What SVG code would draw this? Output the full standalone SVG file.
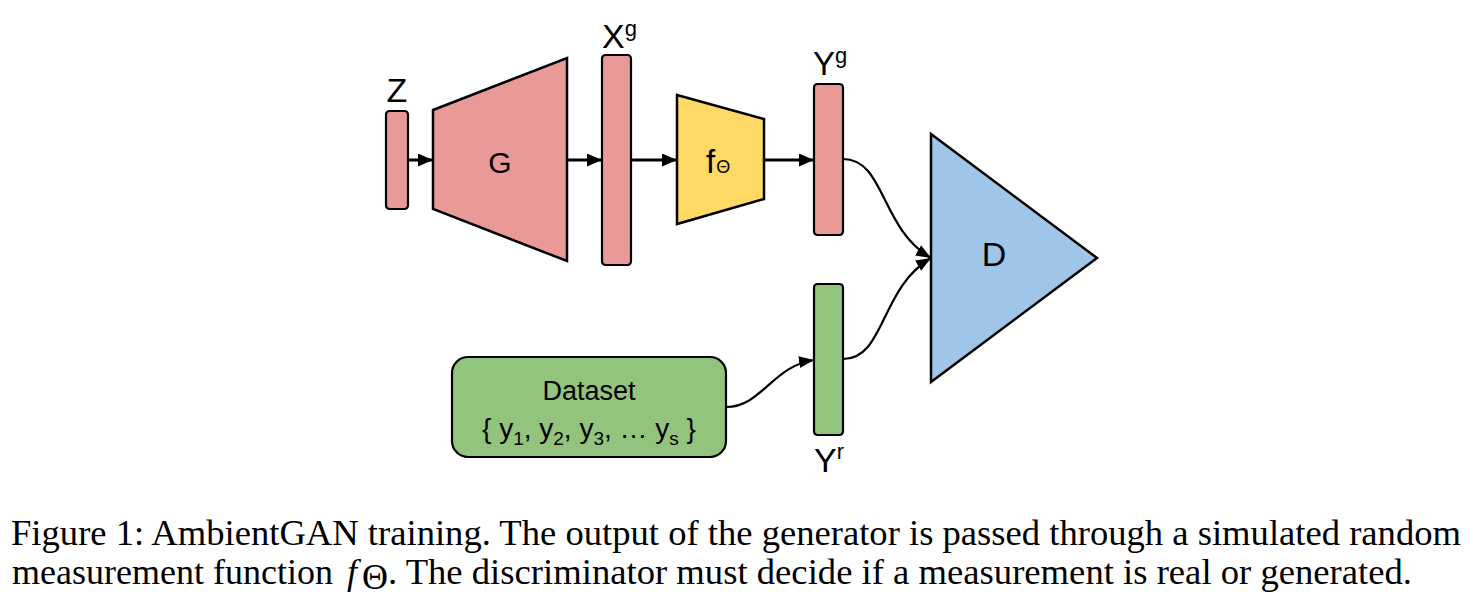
<svg xmlns="http://www.w3.org/2000/svg" width="1470" height="599" viewBox="0 0 1470 599">
<style>
.lbl{font-family:"Liberation Sans",Arial,sans-serif;fill:#000}
.cap{font-family:"Liberation Serif","Times New Roman",serif;fill:#000;font-size:36px}
.shape{stroke:#000;stroke-width:2.5;stroke-linejoin:miter}
.bar{stroke:#000;stroke-width:2.2}
.pink{fill:#EA9999}
.green{fill:#93C47D}
.conn{stroke:#000;fill:none}
</style>
<defs>
<marker id="ah" markerUnits="userSpaceOnUse" markerWidth="16" markerHeight="14" refX="15" refY="6.5" orient="auto">
<path d="M0,0 L15,6.5 L0,13 z" fill="#000"/>
</marker>
<marker id="ahc" markerUnits="userSpaceOnUse" markerWidth="16" markerHeight="14" refX="15" refY="6" orient="auto">
<path d="M0,0 L15,6 L0,12 z" fill="#000"/>
</marker>
</defs>
<rect width="1470" height="599" fill="#fff"/>

<g id="connectors">
<line class="conn" x1="408" y1="160" x2="433" y2="160" stroke-width="3" marker-end="url(#ah)"/>
<line class="conn" x1="567" y1="160" x2="602" y2="160" stroke-width="3" marker-end="url(#ah)"/>
<line class="conn" x1="631" y1="160" x2="677" y2="160" stroke-width="3" marker-end="url(#ah)"/>
<line class="conn" x1="764" y1="160" x2="814" y2="160" stroke-width="3" marker-end="url(#ah)"/>
<path class="conn" d="M843,159 C885,159 880,228 931,258" stroke-width="2.2" marker-end="url(#ahc)"/>
<path class="conn" d="M843,359 C885,359 880,288 931,258" stroke-width="2.2" marker-end="url(#ahc)"/>
<path class="conn" d="M726,407 C762,407 772,366 814,360" stroke-width="2.2" marker-end="url(#ahc)"/>
</g>

<g id="node-Z">
<rect class="bar pink" x="386" y="111" width="22" height="98" rx="3.5"/>
<text class="lbl" x="397" y="102" font-size="34" text-anchor="middle">Z</text>
</g>

<g id="node-G">
<polygon class="shape pink" points="433,110 567,58 567,261 433,209"/>
<text class="lbl" x="500" y="173" font-size="30" text-anchor="middle">G</text>
</g>

<g id="node-Xg">
<rect class="bar pink" x="602" y="55" width="29" height="210" rx="3.5"/>
<text class="lbl" x="602" y="48" font-size="34">X<tspan font-size="22" dy="-12">g</tspan></text>
</g>

<g id="node-f">
<polygon class="shape" fill="#FFD966" points="677,95 764,119 764,199 677,224"/>
<text class="lbl" x="706" y="173" font-size="33">f<tspan font-size="18" dx="1">Θ</tspan></text>
</g>

<g id="node-Yg">
<rect class="bar pink" x="814" y="84" width="29" height="151" rx="3.5"/>
<text class="lbl" x="813" y="75" font-size="33">Y<tspan font-size="22" dy="-12">g</tspan></text>
</g>

<g id="node-Yr">
<rect class="bar green" x="814" y="284" width="29" height="151" rx="3.5"/>
<text class="lbl" x="814" y="472" font-size="34">Y<tspan font-size="22" dy="-13">r</tspan></text>
</g>

<g id="node-D">
<polygon class="shape" fill="#9FC5E8" points="931,134 1097,258 931,382"/>
<text class="lbl" x="994" y="266" font-size="34" text-anchor="middle">D</text>
</g>

<g id="node-Dataset">
<rect class="bar green" x="452" y="357" width="274" height="100" rx="16"/>
<text class="lbl" x="589" y="400" font-size="27" text-anchor="middle">Dataset</text>
<text class="lbl" x="589" y="438" font-size="28" text-anchor="middle">{ y<tspan font-size="19" dy="7">1</tspan><tspan dy="-7">, y</tspan><tspan font-size="19" dy="7">2</tspan><tspan dy="-7">, y</tspan><tspan font-size="19" dy="7">3</tspan><tspan dy="-7">, … y</tspan><tspan font-size="19" dy="7">s</tspan><tspan dy="-7"> }</tspan></text>
</g>

<g id="caption">
<text class="cap" x="11" y="545" textLength="1450" lengthAdjust="spacingAndGlyphs">Figure 1: AmbientGAN training. The output of the generator is passed through a simulated random</text>
<text class="cap" x="12" y="584" textLength="321" lengthAdjust="spacingAndGlyphs">measurement function</text>
<text class="cap" x="347" y="584" font-style="italic">f</text>
<text class="cap" x="362" y="589" font-size="21">Θ</text>
<text class="cap" x="388" y="584" textLength="1024" lengthAdjust="spacingAndGlyphs">. The discriminator must decide if a measurement is real or generated.</text>
</g>
</svg>
